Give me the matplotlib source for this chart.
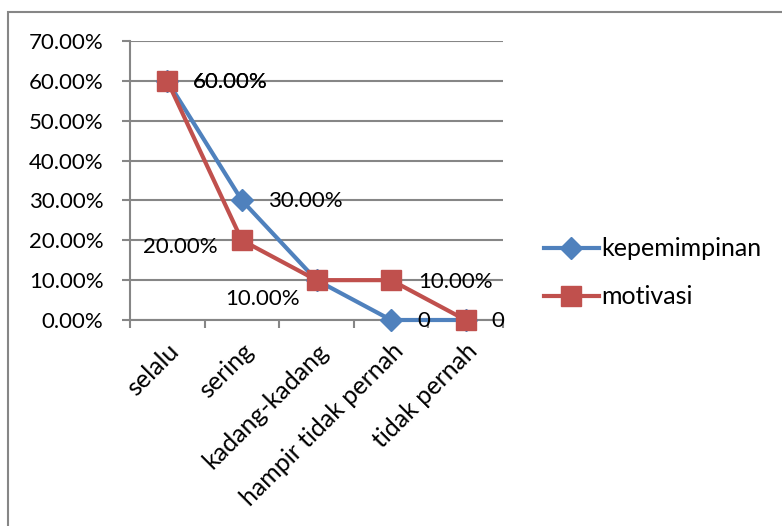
import matplotlib
matplotlib.use("Agg")
import matplotlib.pyplot as plt
from matplotlib.patches import Rectangle
from matplotlib.ticker import FuncFormatter, FixedLocator

plt.rcParams['font.family'] = ['Lato', 'DejaVu Sans']

categories = ['selalu', 'sering', 'kadang-kadang', 'hampir tidak pernah', 'tidak pernah']
kepemimpinan = [0.60, 0.30, 0.10, 0.0, 0.0]
motivasi = [0.60, 0.20, 0.10, 0.10, 0.0]

# label text, series, point index, offset in pixels, alignment
labels = [
    ('60.00%', kepemimpinan, 0, (25, -1), 'left'),
    ('60.00%', motivasi, 0, (25, -1), 'left'),
    ('30.00%', kepemimpinan, 1, (26, -1), 'left'),
    ('20.00%', motivasi, 1, (-24, -7), 'right'),
    ('10.00%', kepemimpinan, 2, (-17, -19), 'right'),
    ('10.00%', motivasi, 3, (27, -2), 'left'),
    ('0', kepemimpinan, 3, (26, -1), 'left'),
    ('0', motivasi, 4, (26, -1), 'left'),
]

blue = '#4F81BD'
red = '#C0504D'
grey = '#868686'

fig = plt.figure(figsize=(7.82, 5.26), dpi=100)
ax = fig.add_axes([130 / 782, 1 - 320 / 526, (503 - 130) / 782, (320 - 41) / 526])

x = list(range(len(categories)))
ax.plot(x, kepemimpinan, color=blue, lw=3, marker='D', ms=11,
        mfc=blue, mec=blue, label='kepemimpinan', zorder=3, clip_on=False)
ax.plot(x, motivasi, color=red, lw=3, marker='s', ms=14,
        mfc=red, mec=red, label='motivasi', zorder=4, clip_on=False)

for txt, series, i, off, ha in labels:
    ax.annotate(txt, (i, series[i]), xytext=off, textcoords='offset pixels',
                ha=ha, va='center', fontsize=16, color='black', zorder=5)

ax.set_xlim(-0.5, 4.5)
ax.set_ylim(0, 0.7)
ax.set_yticks([i / 10 for i in range(8)])
ax.yaxis.set_major_formatter(FuncFormatter(lambda v, p: f'{v * 100:.2f}%'))
ax.grid(axis='y', color=grey, lw=1.5)
ax.set_axisbelow(True)

ax.set_xticks(x)
ax.set_xticklabels(categories, rotation=45, ha='right', rotation_mode='anchor')
ax.xaxis.set_minor_locator(FixedLocator([i - 0.5 for i in range(6)]))
ax.tick_params(axis='x', which='major', length=0, pad=14, labelsize=18)
ax.tick_params(axis='x', which='minor', length=6, width=1.5, color=grey, direction='out')
ax.tick_params(axis='y', length=6, width=1.5, color=grey, labelsize=16, pad=13)

for s in ['top', 'right']:
    ax.spines[s].set_visible(False)
for s in ['left', 'bottom']:
    ax.spines[s].set_color(grey)
    ax.spines[s].set_linewidth(1.5)

leg = fig.legend(loc='upper left', bbox_to_anchor=(521 / 782, 1 - 215 / 526),
                 frameon=False, fontsize=18, handlelength=2.2, handletextpad=0.1,
                 labelspacing=1.0)

fig.patches.append(Rectangle((8 / 782, -0.1), 1.2, 1 - 12 / 526 + 0.1,
                             transform=fig.transFigure, fill=False,
                             edgecolor=grey, lw=1.5))

fig.savefig('out.png', dpi=100)
